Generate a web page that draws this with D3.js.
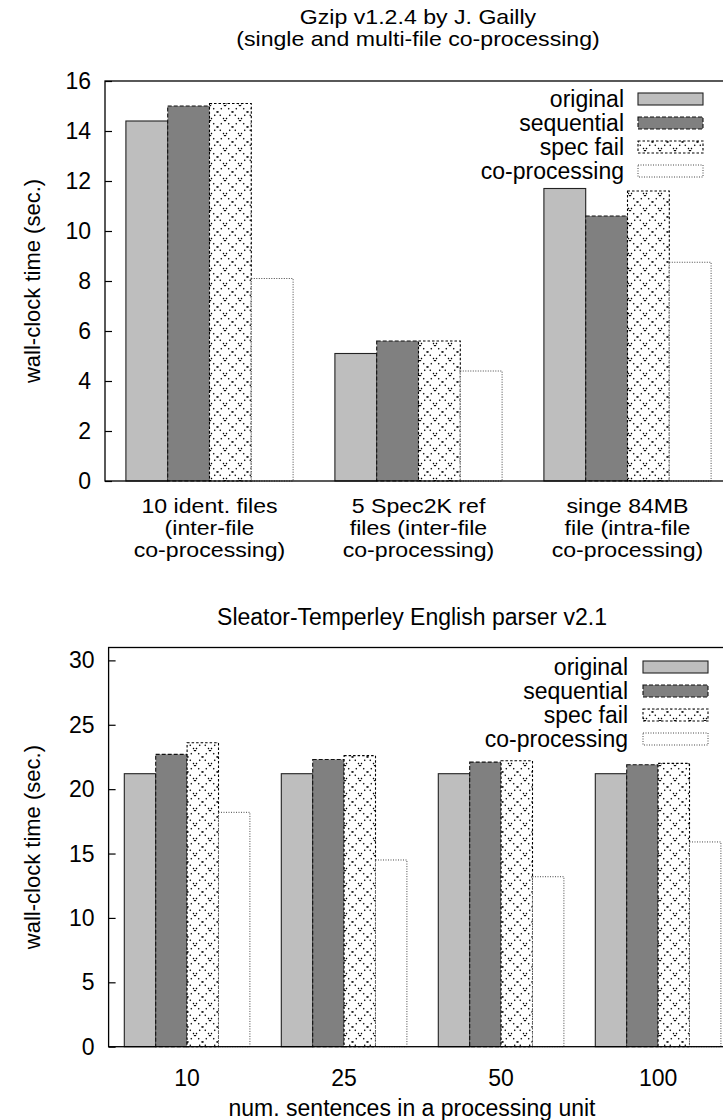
<!DOCTYPE html>
<html>
<head>
<meta charset="utf-8">
<script src="https://cdn.jsdelivr.net/npm/d3@7"></script>
<style>
  html, body { margin: 0; padding: 0; background: #fff; }
  svg { display: block; }
  text { font-family: "Liberation Sans", Arial, Helvetica, sans-serif; font-size: 23px; fill: #000; }
</style>
</head>
<body>
<script>
// Series names shared by both panels
const seriesNames = ["original", "sequential", "spec fail", "co-processing"];

// Gzip panel
const gzipTitle = ["Gzip v1.2.4 by J. Gailly", "(single and multi-file co-processing)"];
const gzipCategories = [
  ["10 ident. files", "(inter-file", "co-processing)"],
  ["5 Spec2K ref", "files (inter-file", "co-processing)"],
  ["singe 84MB", "file (intra-file", "co-processing)"]
];
const gzipOriginal   = [14.4, 5.1, 11.7];
const gzipSequential = [15.0, 5.6, 10.6];
const gzipSpecFail   = [15.1, 5.6, 11.6];
const gzipCoProc     = [8.1, 4.4, 8.75];
const gzipTicks = [0, 2, 4, 6, 8, 10, 12, 14, 16];

// Parser panel
const parserTitle = ["Sleator-Temperley English parser v2.1"];
const parserXTitle = "num. sentences in a processing unit";
const parserCategories = ["10", "25", "50", "100"];
const parserOriginal   = [21.2, 21.2, 21.2, 21.2];
const parserSequential = [22.7, 22.3, 22.1, 21.9];
const parserSpecFail   = [23.6, 22.6, 22.2, 22.0];
const parserCoProc     = [18.2, 14.5, 13.2, 15.9];
const parserTicks = [0, 5, 10, 15, 20, 25, 30];

const W = 723, H = 1120;
const MULTI_SIZE = 19.6;   // font size for stacked (multi-line) labels
const MULTI_STRETCH = 1.18; // their horizontal stretch

const svg = d3.select("body").append("svg")
  .attr("width", W).attr("height", H)
  .attr("viewBox", `0 0 ${W} ${H}`);

const defs = svg.append("defs");
// dotted crosshatch fill for the "spec fail" bars
const pat = defs.append("pattern")
  .attr("id", "hatch")
  .attr("patternUnits", "userSpaceOnUse")
  .attr("width", 15).attr("height", 15);
pat.append("rect").attr("width", 15).attr("height", 15).attr("fill", "#fff");
pat.append("path")
  .attr("d", "M0,0 L15,15 M15,0 L0,15")
  .attr("stroke", "#000").attr("stroke-width", 1.2)
  .attr("stroke-dasharray", "1.4,3.2")
  .attr("fill", "none");

const styles = [
  { fill: "#bebebe", stroke: "#222", dash: null,  sw: 1.1 },
  { fill: "#808080", stroke: "#111", dash: "4,2", sw: 1.1 },
  { fill: "url(#hatch)", stroke: "#000", dash: "2.5,2", sw: 1.1 },
  { fill: "#fff", stroke: "#333", dash: "1,1.5", sw: 0.9 }
];

// one text element; several lines become tspans
function label(parent, x, y, str, anchor, opts = {}) {
  const lines = Array.isArray(str) ? str : [str];
  let tf = `translate(${x},${y})`;
  if (opts.rotate) tf += ` rotate(${opts.rotate})`;
  if (lines.length > 1) tf += ` scale(${MULTI_STRETCH},1)`;
  const t = parent.append("text")
    .attr("text-anchor", anchor)
    .attr("transform", tf);
  if (lines.length === 1) {
    t.text(lines[0]);
  } else {
    t.style("font-size", MULTI_SIZE + "px");
    lines.forEach((ln, k) => {
      t.append("tspan").attr("x", 0).attr("dy", k === 0 ? 0 : (opts.lineH || 22)).text(ln);
    });
  }
  if (opts.baseline) t.attr("dominant-baseline", opts.baseline);
  if (opts.size) t.style("font-size", opts.size + "px");
  return t;
}

function panel(cfg) {
  const g = svg.append("g");
  const nGroups = cfg.series[0].length;
  const perGroup = seriesNames.length + 1;
  const x = d3.scaleLinear()
    .domain([0, nGroups * perGroup])
    .range([cfg.left, cfg.left + cfg.unit * nGroups * perGroup]);
  const y = d3.scaleLinear().domain([0, cfg.ymax]).range([cfg.bottom, cfg.top]);

  // bars
  cfg.series.forEach((vals, s) => {
    const st = styles[s];
    g.append("g").selectAll("rect")
      .data(vals)
      .join("rect")
      .attr("x", (d, i) => x(i * perGroup + 0.5 + s))
      .attr("width", x(1) - x(0))
      .attr("y", d => y(d))
      .attr("height", d => y(0) - y(d))
      .attr("fill", st.fill)
      .attr("stroke", st.stroke)
      .attr("stroke-width", st.sw)
      .attr("stroke-dasharray", st.dash);
  });

  // frame
  g.append("rect")
    .attr("x", x.range()[0]).attr("y", y.range()[1])
    .attr("width", x.range()[1] - x.range()[0])
    .attr("height", y.range()[0] - y.range()[1])
    .attr("fill", "none").attr("stroke", "#000").attr("stroke-width", 1.3);

  // y axis: inward ticks on both sides, labels drawn separately
  const ag = g.append("g").attr("transform", `translate(${x.range()[0]},0)`)
    .call(d3.axisLeft(y).tickValues(cfg.ticks).tickSizeInner(-7).tickSizeOuter(0).tickFormat(""));
  ag.select(".domain").remove();
  ag.selectAll("line").attr("stroke", "#000").attr("stroke-width", 1.2);
  const agR = g.append("g").attr("transform", `translate(${x.range()[1]},0)`)
    .call(d3.axisRight(y).tickValues(cfg.ticks).tickSizeInner(-7).tickSizeOuter(0).tickFormat(""));
  agR.select(".domain").remove();
  agR.selectAll("line").attr("stroke", "#000");

  cfg.ticks.forEach(t => {
    label(g, x.range()[0] - 14, y(t), String(t), "end", { baseline: "central" });
  });

  // y title
  label(g, cfg.ytitleX, (y.range()[0] + y.range()[1]) / 2, "wall-clock time (sec.)", "middle",
    { rotate: -90, baseline: "central", size: 22 });

  // category labels
  cfg.categories.forEach((lines, i) => {
    label(g, x(i * perGroup + 2.5), cfg.catY, lines, "middle", { lineH: cfg.catLine });
  });

  // titles
  cfg.titles.forEach(tl => label(g, tl.x, tl.y, tl.text, "middle", { lineH: 22 }));

  // legend
  seriesNames.forEach((name, s) => {
    const cy = cfg.legend.y0 + s * cfg.legend.dy;
    label(g, cfg.legend.textX, cy, name, "end", { baseline: "central" });
    const st = styles[s];
    g.append("rect")
      .attr("x", cfg.legend.boxX).attr("y", cy - 6)
      .attr("width", 65).attr("height", 12)
      .attr("fill", st.fill).attr("stroke", st.stroke)
      .attr("stroke-width", st.sw).attr("stroke-dasharray", st.dash);
  });
}

panel({
  series: [gzipOriginal, gzipSequential, gzipSpecFail, gzipCoProc],
  categories: gzipCategories,
  ticks: gzipTicks,
  ymax: 16,
  left: 105, unit: 41.8,
  top: 81, bottom: 481,
  ytitleX: 32,
  catY: 513, catLine: 22,
  titles: [
    { x: 418, y: 24, text: gzipTitle }
  ],
  legend: { textX: 624, boxX: 638, y0: 99, dy: 24 }
});

panel({
  series: [parserOriginal, parserSequential, parserSpecFail, parserCoProc],
  categories: parserCategories,
  ticks: parserTicks,
  ymax: 31,
  left: 108.6, unit: 31.4,
  top: 647.5, bottom: 1046.7,
  ytitleX: 32,
  catY: 1086, catLine: 22,
  titles: [
    { x: 412, y: 625, text: parserTitle },
    { x: 412, y: 1116, text: parserXTitle }
  ],
  legend: { textX: 628, boxX: 643, y0: 667, dy: 24 }
});
</script>
</body>
</html>
